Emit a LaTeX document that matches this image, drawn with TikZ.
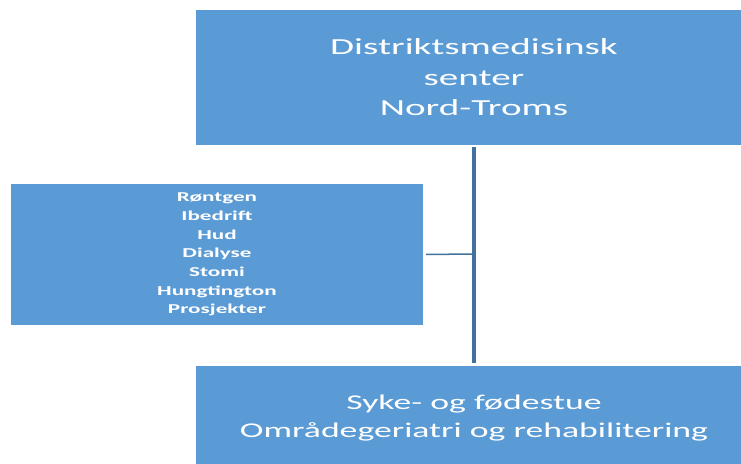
\documentclass[tikz,border=0pt]{standalone}
\usepackage{fontspec}
\setmainfont{Carlito}[FakeStretch=1.7]
\definecolor{boxblue}{HTML}{5B9BD5}
\definecolor{lineblue}{HTML}{41719C}

\begin{document}
\begin{tikzpicture}[x=1pt, y=-1pt,
  unit/.style={fill=boxblue, text=white, align=center, inner sep=0pt},
  link/.style={draw=lineblue}]
\useasboundingbox (0,0) rectangle (741,463); % page size of the reference
\draw (474,77.5) node[unit, minimum width=556pt, minimum height=135pt, font=\fontsize{23}{30.5}\selectfont] (dms) {Distriktsmedisinsk\\senter\\Nord-Troms};
\draw (217,254.5) node[unit, minimum width=412pt, minimum height=141pt, font=\bfseries\fontsize{13.6}{18.67}\selectfont] (tilbud) {Røntgen\\Ibedrift\\Hud\\Dialyse\\Stomi\\Hungtington\\Prosjekter};
\draw (474,418) node[unit, minimum width=556pt, minimum height=104pt, font=\fontsize{21}{28}\selectfont] (stue) {Syke- og fødestue\\Områdegeriatri og rehabilitering};
\coordinate (fork) at (474,254);
\draw [link, line width=3.5pt, shorten <=2pt, shorten >=3pt] (dms) to (stue);
\draw [link, line width=1.5pt, shorten <=3pt] (tilbud.east) to (fork);
\end{tikzpicture}
\end{document}
